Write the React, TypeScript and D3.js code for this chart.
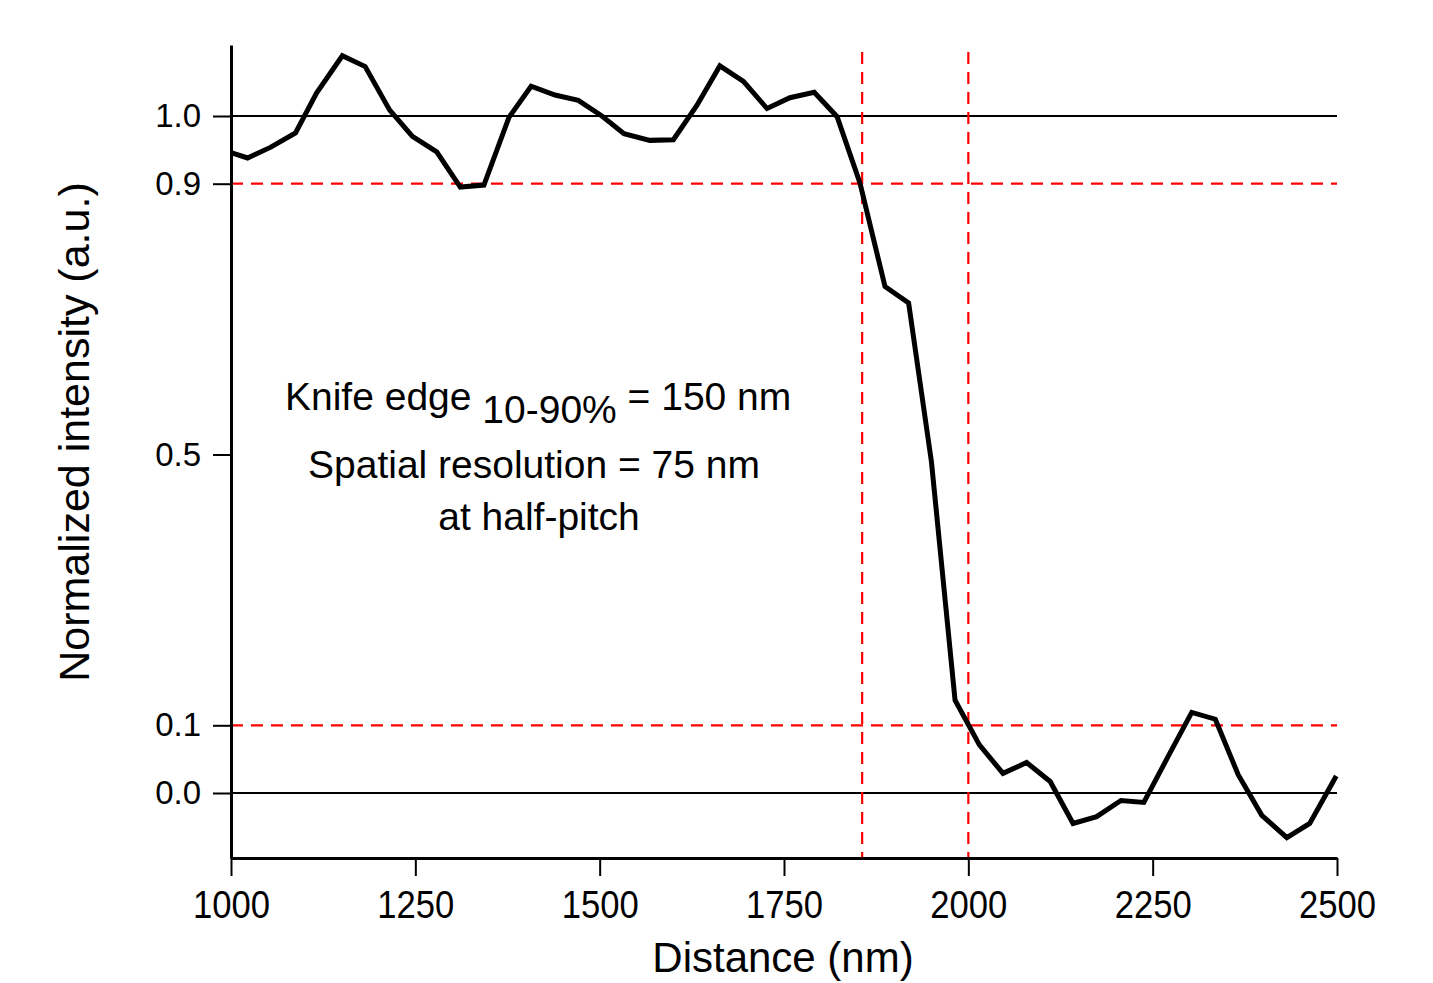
import React, { useEffect, useRef } from 'react'
import * as d3 from 'd3'

// profile across the edge
const distance = [1000, 1022.5, 1054, 1087.5, 1116, 1151, 1182, 1215, 1246, 1279, 1311, 1343, 1377, 1407, 1439.5, 1471,
  1503, 1533, 1568, 1600, 1632, 1663, 1695, 1727, 1758, 1791, 1822, 1853, 1887, 1919, 1950, 1982,
  2015, 2047, 2079, 2111, 2142, 2174, 2207, 2238, 2271, 2303, 2335, 2366, 2398, 2432, 2463, 2499]
const intensity = [0.946, 0.938, 0.954, 0.975, 1.034, 1.089, 1.073, 1.009, 0.970, 0.947, 0.895, 0.898, 0.998, 1.044, 1.031, 1.023,
  1.000, 0.974, 0.964, 0.965, 1.016, 1.074, 1.051, 1.011, 1.027, 1.035, 0.999, 0.901, 0.748, 0.724, 0.489, 0.137,
  0.071, 0.029, 0.045, 0.017, -0.045, -0.035, -0.011, -0.014, 0.054, 0.119, 0.109, 0.027, -0.033, -0.066, -0.045, 0.025]

const xMajor = [1000, 1250, 1500, 1750, 2000, 2250, 2500]
const xMinor = [1125, 1375, 1625, 1875, 2125, 2375]
const yMajor = [0.0, 0.1, 0.5, 0.9, 1.0]
const yMinor = [0.25, 0.75]

const solidLevels = [0, 1]
const dashLevels = [0.1, 0.9]
const edgeMarks = [1856, 2000]

const W = 1433, H = 983

export default function App() {
  const ref = useRef(null)

  useEffect(() => {
    const svg = d3.select(ref.current)
    svg.selectAll('*').remove()

    const x = d3.scaleLinear().domain([1000, 2500]).range([231, 1337])
    const y = d3.scaleLinear().domain([0, 1]).range([793, 116])
    const yTop = 45, yBot = 858
    const yAx = d3.scaleLinear().domain([y.invert(yBot), y.invert(yTop)]).range([yBot, yTop])

    const font = 'Arial, "Liberation Sans", Helvetica, sans-serif'

    // reference lines
    svg.append('g').selectAll('line').data(solidLevels).enter().append('line')
      .attr('x1', x(1000)).attr('x2', x(2500))
      .attr('y1', d => y(d)).attr('y2', d => y(d))
      .attr('stroke', '#000').attr('stroke-width', 2)

    svg.append('g').selectAll('line').data(dashLevels).enter().append('line')
      .attr('x1', x(1000)).attr('x2', x(2500))
      .attr('y1', d => y(d)).attr('y2', d => y(d))
      .attr('stroke', '#ff0000').attr('stroke-width', 2.2)
      .attr('stroke-dasharray', '12,8')

    svg.append('g').selectAll('line').data(edgeMarks).enter().append('line')
      .attr('x1', d => x(d)).attr('x2', d => x(d))
      .attr('y1', 52).attr('y2', yBot)
      .attr('stroke', '#ff0000').attr('stroke-width', 2.2)
      .attr('stroke-dasharray', '12,8')

    // profile
    const line = d3.line<number>()
      .x((d, i) => x(distance[i]))
      .y(d => y(d))
    svg.append('path')
      .attr('d', line(intensity))
      .attr('fill', 'none')
      .attr('stroke', '#000')
      .attr('stroke-width', 5)
      .attr('stroke-linejoin', 'miter')

    // x axis
    const gx = svg.append('g').attr('transform', `translate(0,${yBot})`)
    gx.call(d3.axisBottom(x).tickValues(xMinor).tickSize(10).tickSizeOuter(0).tickFormat(() => ''))
    gx.call(d3.axisBottom(x).tickValues(xMajor).tickSize(18).tickSizeOuter(0).tickPadding(15).tickFormat(d3.format('d')))
    gx.selectAll('.domain').attr('stroke-width', 3)
    gx.selectAll('.tick line').attr('stroke-width', 2)
    gx.selectAll('.tick text')
      .attr('font-family', font).attr('font-size', 38).attr('fill', '#000')
      .attr('textLength', 77).attr('lengthAdjust', 'spacingAndGlyphs')

    // y axis
    const gy = svg.append('g').attr('transform', `translate(${x(1000)},0)`)
    gy.call(d3.axisLeft(yAx).tickValues(yMinor).tickSize(11).tickSizeOuter(0).tickFormat(() => ''))
    gy.call(d3.axisLeft(yAx).tickValues(yMajor).tickSize(18).tickSizeOuter(0).tickPadding(12).tickFormat(d3.format('.1f')))
    gy.selectAll('.domain').attr('stroke-width', 3)
    gy.selectAll('.tick line').attr('stroke-width', 2)
    gy.selectAll('.tick text')
      .attr('font-family', font).attr('font-size', 33).attr('fill', '#000')

    // axis titles
    svg.append('text')
      .attr('x', 783).attr('y', 972)
      .attr('text-anchor', 'middle')
      .attr('font-family', font).attr('font-size', 42)
      .text('Distance (nm)')

    svg.append('text')
      .attr('transform', 'translate(89,432) rotate(-90)')
      .attr('text-anchor', 'middle')
      .attr('font-family', font).attr('font-size', 43)
      .text('Normalized intensity (a.u.)')

    // annotation
    const note = svg.append('g').attr('font-family', font).attr('font-size', 39).attr('fill', '#000')
    const t1 = note.append('text').attr('x', 285).attr('y', 410)
    t1.append('tspan').text('Knife edge ')
    t1.append('tspan').attr('dy', 13).text('10-90%')
    t1.append('tspan').attr('dy', -13).text(' = 150 nm')
    note.append('text').attr('x', 534).attr('y', 478).attr('text-anchor', 'middle')
      .text('Spatial resolution = 75 nm')
    note.append('text').attr('x', 539).attr('y', 530).attr('text-anchor', 'middle')
      .text('at half-pitch')
  }, [])

  return (
    <svg ref={ref} width={W} height={H}
      style={{ position: 'absolute', left: 0, top: 0, background: '#fff' }} />
  )
}
